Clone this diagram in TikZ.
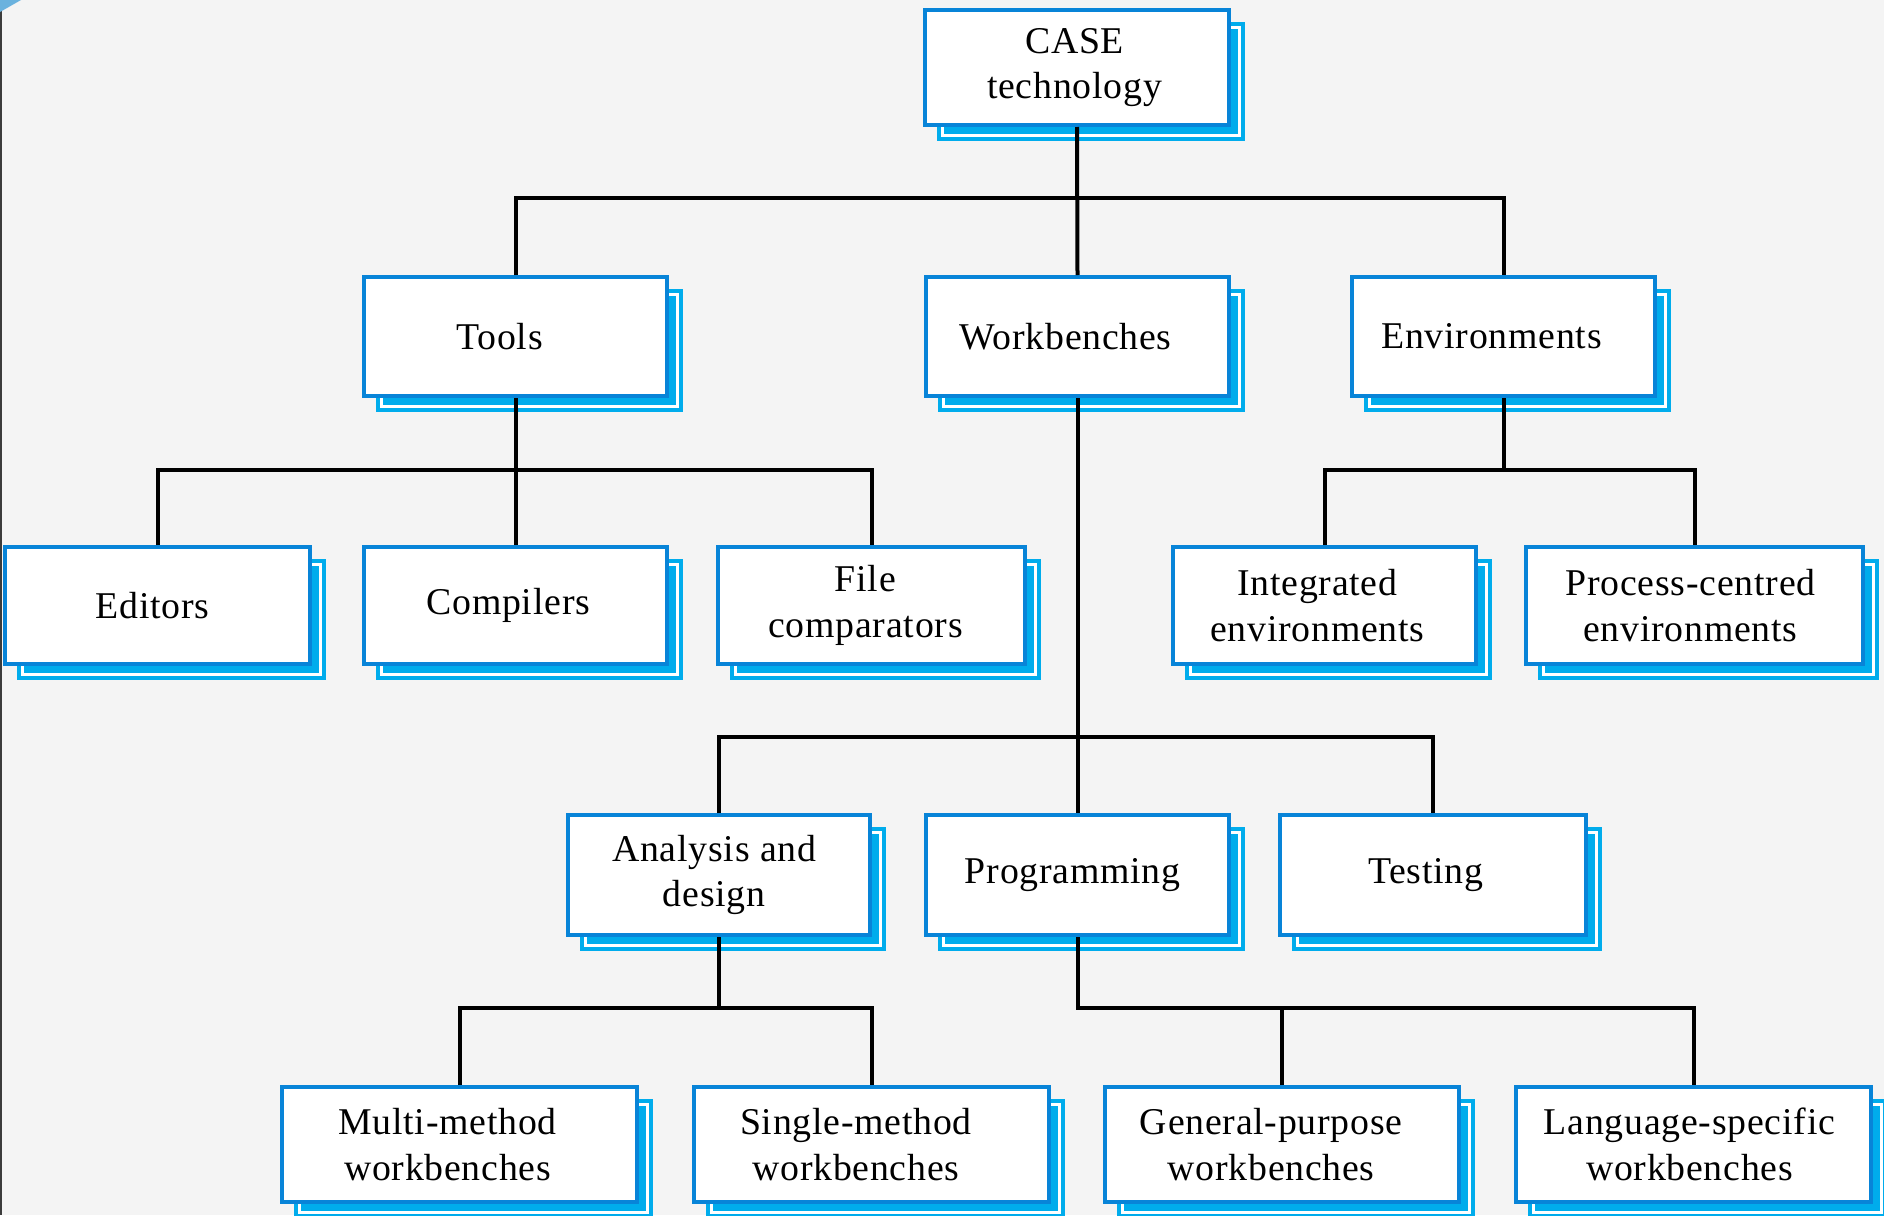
\documentclass[tikz,border=0pt]{standalone}
\usepackage{fontspec}
\setmainfont{Liberation Serif}[LetterSpace=2]
\usetikzlibrary{calc}

\definecolor{pagebg}{RGB}{244,244,244}
\definecolor{boxblue}{RGB}{8,132,216}
\definecolor{shadowblue}{RGB}{0,172,236}
\definecolor{cornerblue}{RGB}{106,178,222}
\definecolor{edgegray}{RGB}{60,60,60}

\tikzset{
  boxframe/.style={draw=boxblue, line width=2.2pt, fill=white, inner sep=0pt},
  boxshade/.style={fill=shadowblue},
  shadeline/.style={draw=white, line width=1.4pt},
  boxtext/.style={align=center, font=\fontsize{18.9}{22.8}\selectfont, inner sep=0pt},
  link/.style={draw=black, line width=2pt},
}

% \casebox[text shift]{name}{left}{top}{right}{bottom}{label}
% draws the offset blue shadow, the framed white box and its label
\newcommand\casebox[7][-4pt]{%
  \fill[boxshade] (#3+14,#4+14) rectangle (#5+14,#6+14);
  \draw[shadeline] (#3+19.5,#4+19.5) rectangle (#5+8.5,#6+8.5);
  \node[boxframe, minimum width={(#5-#3-4.4)*0.5pt}, minimum height={(#6-#4-4.4)*0.5pt}]
    (#2) at ({(#3+#5)/2},{(#4+#6)/2}) {};
  \node[boxtext] (#2-t) at ([xshift=#1]#2.center) {#7};
}

\begin{document}
\begin{tikzpicture}[x=0.5pt, y=-0.5pt]
  % page
  \useasboundingbox (0,0) rectangle (1884,1215);
  \fill[pagebg] (0,0) rectangle (1884,1215);
  \fill[edgegray] (0,10) rectangle (1.5,1215);
  \fill[cornerblue] (0,0) -- (21,0) -- (0,12) -- cycle;

  % level 0
  \casebox[-1.2pt]{case}{923}{8}{1231}{127}{CASE\\technology}
  % level 1
  \casebox[-8pt]{tools}{362}{275}{669}{398}{Tools}
  \casebox[-6pt]{wb}{924}{275}{1231}{398}{Workbenches}
  \casebox[-6pt]{env}{1350}{275}{1657}{398}{Environments}
  % level 2
  \casebox[-2.4pt]{editors}{3}{545}{312}{666}{Editors}
  \casebox[-3.6pt]{compilers}{362}{545}{669}{666}{Compilers}
  \casebox[-3pt]{filecmp}{716}{545}{1027}{666}{File\\comparators}
  \casebox[-3.6pt]{integ}{1171}{545}{1478}{666}{Integrated\\environments}
  \casebox[-2pt]{proc}{1524}{545}{1865}{666}{Process-centred\\environments}
  % level 3
  \casebox[-2.4pt]{anal}{566}{813}{872}{937}{Analysis and\\design}
  \casebox[-2.4pt]{prog}{924}{813}{1231}{937}{Programming}
  \casebox[-3.6pt]{test}{1278}{813}{1588}{937}{Testing}
  % level 4
  \casebox[-6pt]{multi}{280}{1085}{639}{1204}{Multi-method\\workbenches}
  \casebox[-7.8pt]{single}{692}{1085}{1051}{1204}{Single-method\\workbenches}
  \casebox[-5.4pt]{gen}{1103}{1085}{1461}{1204}{General-purpose\\workbenches}
  \casebox[-2pt]{lang}{1514}{1085}{1873}{1204}{Language-specific\\workbenches}

  % bus heights
  \coordinate (y1) at (0,198);
  \coordinate (y2) at (0,470);
  \coordinate (y3) at (0,737);
  \coordinate (y4) at (0,1008);

  % CASE technology
  \draw[link] (case.south) -- (wb.north);
  \draw[link] (tools.north) |- (env.north |- y1) -- (env.north);
  % Tools
  \draw[link] (tools.south) -- (compilers.north);
  \draw[link] (editors.north) |- (filecmp.north |- y2) -- (filecmp.north);
  % Environments
  \draw[link] (env.south) -- (env.south |- y2);
  \draw[link] (integ.north) |- (proc.north |- y2) -- (proc.north);
  % Workbenches
  \draw[link] (wb.south) -- (prog.north);
  \draw[link] (anal.north) |- (test.north |- y3) -- (test.north);
  % Analysis and design
  \draw[link] (anal.south) -- (anal.south |- y4);
  \draw[link] (multi.north) |- (single.north |- y4) -- (single.north);
  % Programming
  \draw[link] (prog.south) |- (lang.north |- y4) -- (lang.north);
  \draw[link] (gen.north) -- (gen.north |- y4);
\end{tikzpicture}
\end{document}
